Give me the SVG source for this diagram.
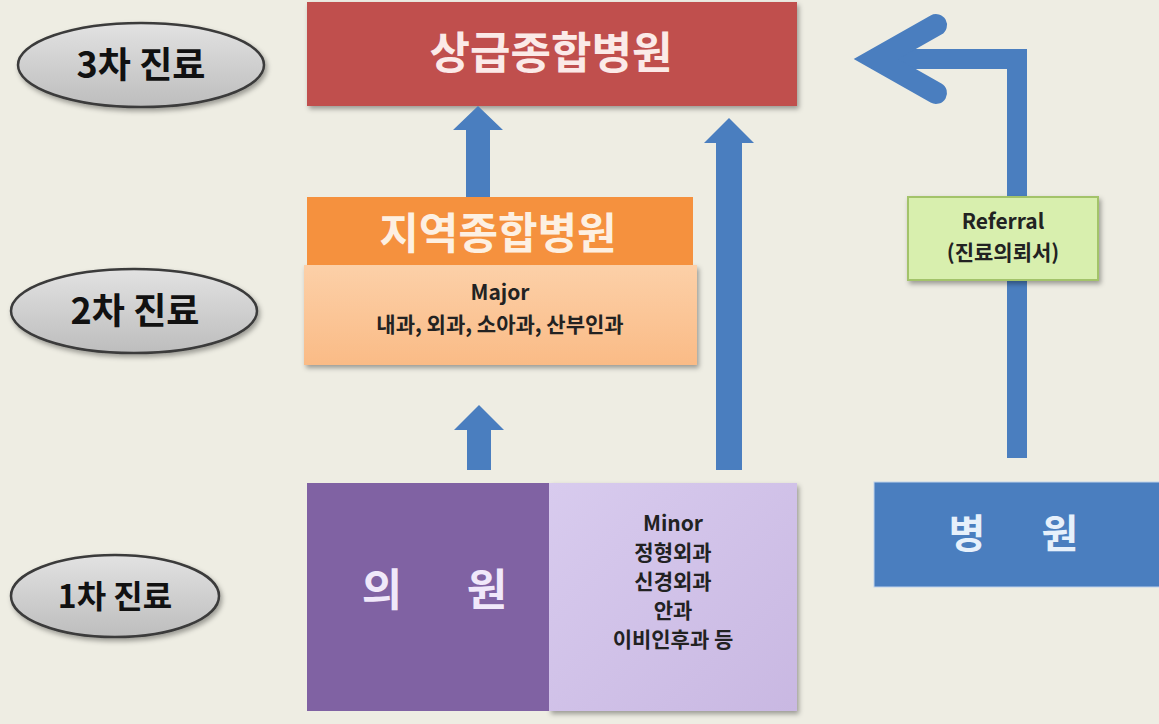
<svg xmlns="http://www.w3.org/2000/svg" width="1159" height="724" viewBox="0 0 1159 724">
<defs>
<linearGradient id="gEll" x1="0" y1="0" x2="0" y2="1"><stop offset="0" stop-color="#E2E2E2"/><stop offset="1" stop-color="#BDBDBD"/></linearGradient>
<linearGradient id="gOr" x1="0" y1="0" x2="0" y2="1"><stop offset="0" stop-color="#FCD0A8"/><stop offset="1" stop-color="#FABB86"/></linearGradient>
<linearGradient id="gPu" x1="0" y1="0" x2="1" y2="1"><stop offset="0" stop-color="#D8CBEE"/><stop offset="1" stop-color="#C9B8E2"/></linearGradient>
<filter id="sh" x="-10%" y="-10%" width="125%" height="130%"><feDropShadow dx="2" dy="3" stdDeviation="2.5" flood-color="#000" flood-opacity="0.35"/></filter>
</defs>
<style>
.ell{fill:url(#gEll);stroke:#3A3A3A;stroke-width:2.5}
.lv{font-family:"Noto Sans CJK KR","Noto Sans",sans-serif;font-weight:bold;fill:#111;text-anchor:middle}
.big{font-family:"Noto Sans CJK KR","Noto Sans",sans-serif;font-weight:bold;text-anchor:middle}
.sm{font-family:"Noto Sans CJK KR","Noto Sans",sans-serif;font-weight:bold;fill:#222;text-anchor:middle;font-size:21px}
.arr{fill:#4A7EBF}
</style>
<rect width="1159" height="724" fill="#EEEDE3"/>

<g id="level3"><ellipse class="ell" cx="141" cy="65" rx="123" ry="42" filter="url(#sh)"/><text class="lv" x="141" y="78" font-size="36">3차 진료</text></g>
<g id="level2"><ellipse class="ell" cx="134" cy="311" rx="123" ry="42" filter="url(#sh)"/><text class="lv" x="135" y="324" font-size="36">2차 진료</text></g>
<g id="level1"><ellipse class="ell" cx="115" cy="596" rx="104" ry="41" filter="url(#sh)"/><text class="lv" x="115" y="608" font-size="32">1차 진료</text></g>

<g id="tertiary"><rect x="307" y="2" width="490" height="104" fill="#C0504D" filter="url(#sh)"/><text class="big" x="551" y="69" font-size="44" fill="#FBEAE8">상급종합병원</text></g>

<g id="secondary">
<rect x="304" y="265" width="393" height="100" fill="url(#gOr)" filter="url(#sh)"/>
<rect x="307" y="197" width="386" height="68" fill="#F5913E"/>
<text class="big" x="498" y="249" font-size="43" fill="#FDF0E2">지역종합병원</text>
<text class="sm" x="500" y="300" font-size="20">Major</text>
<text class="sm" x="500" y="332" font-size="20">내과, 외과, 소아과, 산부인과</text>
</g>

<g id="primary">
<rect x="549" y="483" width="248" height="228" fill="url(#gPu)" filter="url(#sh)"/>
<rect x="307" y="483" width="242" height="228" fill="#8062A3"/>
<text class="big" x="382" y="606" font-size="44" fill="#F0E8FA">의</text>
<text class="big" x="487" y="606" font-size="44" fill="#F0E8FA">원</text>
<text class="sm" x="673" y="531">Minor</text>
<text class="sm" x="673" y="560">정형외과</text>
<text class="sm" x="673" y="589">신경외과</text>
<text class="sm" x="673" y="618">안과</text>
<text class="sm" x="673" y="647">이비인후과 등</text>
</g>

<g id="hospital"><rect x="874" y="482" width="290" height="105" fill="#4A7EBF" stroke="#BFD3EC" stroke-width="1"/><text class="big" x="967" y="548" font-size="40" fill="#E6F0FB">병</text><text class="big" x="1060" y="548" font-size="40" fill="#E6F0FB">원</text></g>

<g id="connectors">
<polygon class="arr" points="466,197 466,130 453,130 478,106 503,130 490,130 490,197"/>
<polygon class="arr" points="716,470 716,143 704,143 729,118 754,143 742,143 742,470"/>
<polygon class="arr" points="467,470 467,430 454,430 479,405 504,430 491,430 491,470"/>
<path d="M1017 458 V59 H880" fill="none" stroke="#4A7EBF" stroke-width="20"/>
<path d="M936 25 L876 59 L936 93" fill="none" stroke="#4A7EBF" stroke-width="22" stroke-linecap="round" stroke-linejoin="miter"/>
</g>

<g id="referral"><rect x="908" y="197" width="190" height="83" fill="#D8EFAE" stroke="#A3C36A" stroke-width="2" filter="url(#sh)"/><text class="sm" x="1003" y="229" font-size="23" fill="#1A1A1A">Referral</text><text class="sm" x="1003" y="260" font-size="21" fill="#1A1A1A">(진료의뢰서)</text></g>
</svg>
